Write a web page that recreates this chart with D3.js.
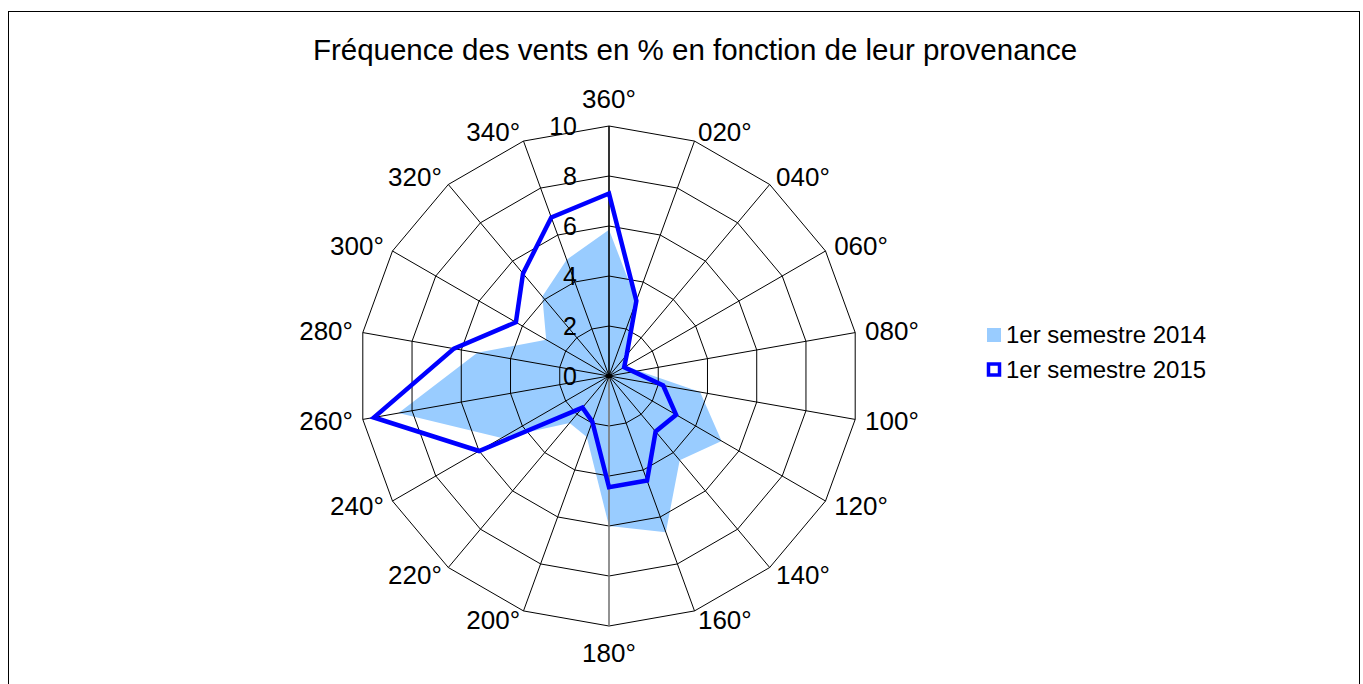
<!DOCTYPE html>
<html>
<head>
<meta charset="utf-8">
<script src="https://cdn.jsdelivr.net/npm/d3@7"></script>
<style>
    body { margin: 0; background: #fff; }
    svg { display: block; font-family: "Liberation Sans", Arial, sans-serif; }
</style>
</head>
<body>
<svg id="chart" width="1363" height="684"></svg>
<script>
// directions (provenance) every 20 degrees
let directions = ["360°", "020°", "040°", "060°", "080°", "100°", "120°", "140°", "160°",
    "180°", "200°", "220°", "240°", "260°", "280°", "300°", "320°", "340°"];
// frequency in %
let sem2014 = [5.85, 3.2, 1.0, 0.8, 1.2, 3.7, 5.2, 4.4, 6.65, 6.0, 2.6, 2.45, 4.95, 8.55, 5.35, 2.9, 4.15, 4.95];
let sem2015 = [7.3, 3.2, 1.1, 0.7, 1.0, 2.2, 3.1, 2.9, 4.45, 4.45, 1.95, 1.65, 6.0, 9.55, 6.3, 4.3, 5.35, 6.75];
let ticks = [0, 2, 4, 6, 8, 10];
let seriesNames = ["1er semestre 2014", "1er semestre 2015"];

let svg = d3.select("#chart");
let cx = 609, cy = 376;
let r = d3.scaleLinear().domain([0, 10]).range([0, 250]);
let angle = i => i * 2 * Math.PI / directions.length;

// outer frame
svg.append("rect")
    .attr("x", 8.5).attr("y", 11.5)
    .attr("width", 1351).attr("height", 720)
    .attr("fill", "none").attr("stroke", "#000").attr("stroke-width", 1);

svg.append("text")
    .attr("x", 695).attr("y", 50)
    .attr("dy", "0.35em")
    .attr("text-anchor", "middle")
    .attr("font-size", 29.5)
    .text("Fréquence des vents en % en fonction de leur provenance");

let g = svg.append("g").attr("transform", `translate(${cx},${cy})`);

let radial = d3.lineRadial()
    .angle((d, i) => angle(i))
    .radius(d => r(d))
    .curve(d3.curveLinearClosed);

// 2014 filled area
g.append("path")
    .attr("d", radial(sem2014))
    .attr("fill", "#99ccff");

// rings
ticks.filter(t => t > 0).forEach(t => {
    g.append("path")
        .attr("d", radial(directions.map(() => t)))
        .attr("fill", "none")
        .attr("stroke", "#000")
        .attr("stroke-width", 1);
});

// spokes
directions.forEach((d, i) => {
    let a = angle(i);
    g.append("line")
        .attr("x1", 0).attr("y1", 0)
        .attr("x2", r(10) * Math.sin(a))
        .attr("y2", -r(10) * Math.cos(a))
        .attr("stroke", i == 9 ? "#777" : "#000")
        .attr("stroke-width", i == 0 || i == 9 ? 1.6 : 1);
});
g.append("circle").attr("r", 2.5).attr("fill", "#000");

// 2015 line
g.append("path")
    .attr("d", radial(sem2015))
    .attr("fill", "none")
    .attr("stroke", "#0000ff")
    .attr("stroke-width", 4.5)
    .attr("stroke-linejoin", "miter");

// value labels
g.selectAll(".tick")
    .data(ticks)
    .enter()
    .append("text")
        .attr("x", -32)
        .attr("y", d => -r(d))
        .attr("dy", "0.35em")
        .attr("text-anchor", "end")
        .attr("font-size", 25)
        .text(d => d);

// category labels
g.selectAll(".cat")
    .data(directions)
    .enter()
    .append("text")
        .attr("x", (d, i) => (r(10) + 10) * Math.sin(angle(i)))
        .attr("y", (d, i) => {
            let c = Math.cos(angle(i));
            let y = -(r(10) + 10) * c;
            if (Math.abs(Math.sin(angle(i))) < 0.1) y -= 17 * c;
            return y;
        })
        .attr("dy", "0.35em")
        .attr("text-anchor", (d, i) => {
            let s = Math.sin(angle(i));
            return s > 0.1 ? "start" : (s < -0.1 ? "end" : "middle");
        })
        .attr("font-size", 26)
        .text(d => d);

// legend
let legend = svg.append("g");
legend.append("rect")
    .attr("x", 987).attr("y", 328)
    .attr("width", 14).attr("height", 14)
    .attr("fill", "#99ccff");
legend.append("rect")
    .attr("x", 988.5).attr("y", 364)
    .attr("width", 11).attr("height", 11)
    .attr("fill", "#fff")
    .attr("stroke", "#0000ff").attr("stroke-width", 3.5);
legend.selectAll(".leg")
    .data(seriesNames)
    .enter()
    .append("text")
        .attr("x", 1006)
        .attr("y", (d, i) => 335 + i * 35)
        .attr("dy", "0.35em")
        .attr("font-size", 24)
        .text(d => d);
</script>
</body>
</html>
